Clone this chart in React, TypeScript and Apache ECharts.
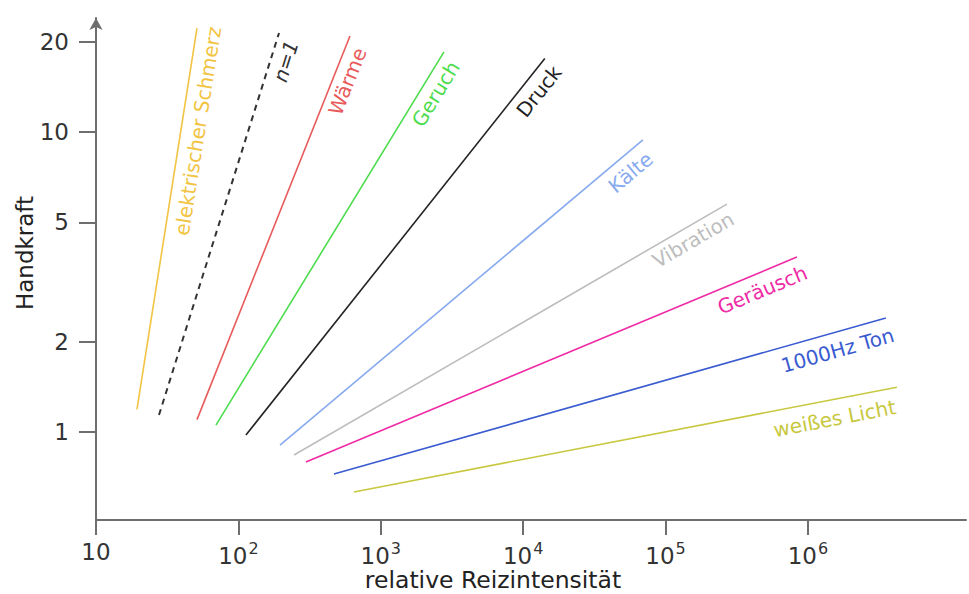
import React, { useEffect, useRef } from "react";
import * as echarts from "echarts";

// ---- data ----
const categories = [
  "elektrischer Schmerz",
  "n=1",
  "Wärme",
  "Geruch",
  "Druck",
  "Kälte",
  "Vibration",
  "Geräusch",
  "1000Hz Ton",
  "weißes Licht",
];
const startX = [19.4, 27.7, 51.2, 69.6, 113, 196, 246, 298, 469, 648];
const startY = [1.19, 1.14, 1.1, 1.055, 0.977, 0.905, 0.838, 0.794, 0.724, 0.631];
const endX = [51.2, 193, 608, 2780, 14200, 69400, 270000, 837000, 3530000, 4220000];
const endY = [22.2, 21.4, 20.9, 18.5, 17.6, 9.41, 5.75, 3.83, 2.4, 1.41];
const xTicks = [10, 100, 1000, 10000, 100000, 1000000];
const yTicks = [1, 2, 5, 10, 20];

// ---- styles ----
const colors = [
  "#f2c443",
  "#333333",
  "#e85a5a",
  "#4cdc4c",
  "#222222",
  "#88aaee",
  "#bdbdbd",
  "#ee2aa5",
  "#3a5bd0",
  "#c8c840",
];
const labelBack = [-4, 4, 8, 4, 0, 5, 2, -3, -3, 5];
const labelOff = [17, 15, 14.5, 15, 16, 17, 14, 17, 18, 19];
const FONT = "DejaVu Sans, Verdana, sans-serif";

export default function App() {
  const ref = useRef<HTMLDivElement>(null);
  useEffect(() => {
    if (!ref.current) return;
    const chart = echarts.init(ref.current, undefined, { renderer: "svg" });
    const series = categories.map((name, i) => ({
      name,
      type: "line",
      data: [
        [startX[i], startY[i]],
        [endX[i], endY[i]],
      ],
      symbol: "none",
      silent: true,
      lineStyle: {
        color: colors[i],
        width: i === 1 ? 2 : 1.6,
        type: i === 1 ? [6, 5] : "solid",
      },
    }));
    const axisColor = "#6e6e6e";
    const axisNames = [
      {
        type: "text",
        x: 25,
        y: 253,
        rotation: Math.PI / 2,
        style: {
          text: "Handkraft",
          fill: "#222",
          font: `23px ${FONT}`,
          align: "center",
          verticalAlign: "middle",
        },
      },
      {
        type: "text",
        x: 493,
        y: 580,
        style: {
          text: "relative Reizintensität",
          fill: "#222",
          font: `23.5px ${FONT}`,
          align: "center",
          verticalAlign: "middle",
        },
      },
    ];
    chart.setOption({
      animation: false,
      textStyle: { fontFamily: FONT },
      grid: { left: 96, right: 3, top: 18, bottom: 74, containLabel: false },
      xAxis: {
        type: "log",
        logBase: 10,
        min: 10,
        max: 12900000,
        axisLine: { lineStyle: { color: axisColor, width: 2 } },
        axisTick: {
          customValues: xTicks,
          length: 15,
          lineStyle: { color: axisColor, width: 2 },
        },
        splitLine: { show: false },
        minorTick: { show: false },
        axisLabel: {
          customValues: xTicks,
          margin: 20,
          formatter: (v: number) => {
            const e = Math.round(Math.log10(v));
            return e === 1 ? "{b|10}" : `{b|10}{s|${e}}`;
          },
          rich: {
            b: { fontSize: 23, color: "#333", fontFamily: FONT },
            s: {
              fontSize: 16,
              color: "#333",
              fontFamily: FONT,
              padding: [0, 0, 15, 1],
            },
          },
        },
      },
      yAxis: {
        type: "log",
        logBase: 10,
        min: 0.509,
        max: 24,
        axisLine: {
          lineStyle: { color: axisColor, width: 2 },
          symbol: ["none", "arrow"],
          symbolSize: [10, 12],
        },
        axisTick: {
          customValues: yTicks,
          length: 17,
          lineStyle: { color: axisColor, width: 2 },
        },
        splitLine: { show: false },
        minorTick: { show: false },
        axisLabel: {
          customValues: yTicks,
          margin: 27,
          fontSize: 23,
          color: "#333",
          fontFamily: FONT,
        },
      },
      graphic: axisNames,
      series,
    });

    // line labels, placed along each line through the chart's own scales
    const labels = categories.map((name, i) => {
      const p1 = chart.convertToPixel({ xAxisIndex: 0, yAxisIndex: 0 }, [startX[i], startY[i]]);
      const p2 = chart.convertToPixel({ xAxisIndex: 0, yAxisIndex: 0 }, [endX[i], endY[i]]);
      const dx = p2[0] - p1[0];
      const dy = p2[1] - p1[1];
      const len = Math.hypot(dx, dy);
      const ux = dx / len;
      const uy = dy / len;
      const nx = -uy;
      const ny = ux;
      const x = p2[0] - labelBack[i] * ux + labelOff[i] * nx;
      const y = p2[1] - labelBack[i] * uy + labelOff[i] * ny;
      return {
        type: "text",
        x,
        y,
        rotation: Math.atan2(-dy, dx),
        silent: true,
        style: {
          text: name,
          fill: colors[i],
          font: `${i === 1 ? "italic " : ""}20px ${FONT}`,
          align: "right",
          verticalAlign: "middle",
        },
      };
    });
    chart.setOption({ graphic: [...axisNames, ...labels] });
    return () => chart.dispose();
  }, []);
  return <div ref={ref} style={{ width: 969, height: 594, position: "absolute", left: 0, top: 0 }} />;
}
